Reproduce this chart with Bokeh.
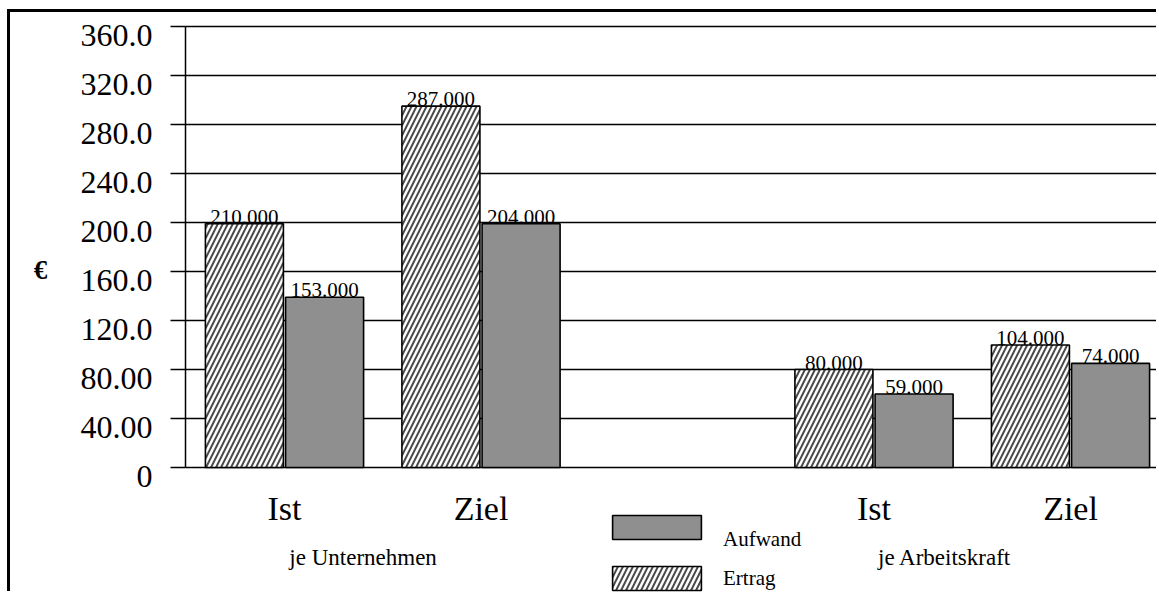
from bokeh.plotting import figure
from bokeh.models import (Range1d, FixedTicker, LinearAxis, Legend, LegendItem,
                          ColumnDataSource)
from bokeh.core.properties import value
from bokeh.transform import dodge
from bokeh.embed import file_html
from bokeh.resources import INLINE

# ---- data -------------------------------------------------------------
categories = ["Ist", "Ziel", "Ist", "Ziel"]
slots = [1, 2, 4, 5]
groups = ["je Unternehmen", "je Arbeitskraft"]
group_pos = [1.40, 4.36]
ertrag = [199, 295, 80, 100]          # bar heights as drawn
aufwand = [139, 199, 60, 85]
ertrag_labels = ["210.000", "287.000", "80.000", "104.000"]
aufwand_labels = ["153.000", "204.000", "59.000", "74.000"]
y_ticks = [0, 40, 80, 120, 160, 200, 240, 280, 320, 360]
y_tick_labels = ["0", "40.00", "80.00", "120.0", "160.0", "200.0",
                 "240.0", "280.0", "320.0", "360.0"]
unit_label = "€"
series_names = ["Aufwand", "Ertrag"]

# ---- layout constants --------------------------------------------------
FONT = "Liberation Serif"
AXIS_X = 0.4962          # x (data) where the value axis stands
X_START, X_END = -0.3944, 5.4529
Y_START, Y_END = -103.67, 371.43
LABEL_SHIFT = 7          # tick labels sit a little below their ticks
CAT_Y = -33.5
GROUP_Y = -73.5
UNIT_X, UNIT_Y = -0.2417, 161.6

src = ColumnDataSource(dict(x=slots, ertrag=ertrag, aufwand=aufwand,
                            el=ertrag_labels, al=aufwand_labels))
cat_src = ColumnDataSource(dict(x=slots, y=[CAT_Y] * len(slots), t=categories))
grp_src = ColumnDataSource(dict(x=group_pos, y=[GROUP_Y] * len(group_pos), t=groups))
grid_src = ColumnDataSource(dict(y=y_ticks, x0=[AXIS_X] * len(y_ticks),
                                 x1=[X_END] * len(y_ticks)))

p = figure(width=1149, height=582, output_backend="svg", toolbar_location=None,
           x_axis_location=None,
           x_range=Range1d(X_START, X_END), y_range=Range1d(Y_START, Y_END),
           min_border=0, min_border_left=0, min_border_right=0,
           min_border_top=0, min_border_bottom=0)
p.styles = {"border-left": "3px solid black", "border-top": "3px solid black",
            "margin-left": "7px", "margin-top": "9px"}
p.outline_line_color = None
p.background_fill_color = "white"
p.border_fill_color = "white"
p.xgrid.visible = False
p.ygrid.visible = False

# horizontal grid lines starting at the value axis
p.segment(x0="x0", y0="y", x1="x1", y1="y", source=grid_src, line_color="black",
          line_width=1.5, level="underlay")

BW = 0.397
OFF = 0.204

r_e = p.vbar(x=dodge("x", -OFF), top="ertrag", width=BW, bottom=0, source=src,
             fill_color="white", line_color="black", line_width=1.6,
             hatch_pattern="right_diagonal_line", hatch_color="#4a4a4a",
             hatch_scale=10, hatch_weight=2.0)
r_a = p.vbar(x=dodge("x", OFF), top="aufwand", width=BW, bottom=0, source=src,
             fill_color="#8f8f8f", line_color="black", line_width=1.6)

p.text(x=dodge("x", -OFF), y="ertrag", text="el", source=src,
       text_font=value(FONT), text_font_size="21px", text_align="center",
       text_baseline="bottom", text_color="black")
p.text(x=dodge("x", OFF), y="aufwand", text="al", source=src,
       text_font=value(FONT), text_font_size="21px", text_align="center",
       text_baseline="bottom", text_color="black")

# category and group labels under the zero line
p.text(x="x", y="y", text="t", source=cat_src, text_font=value(FONT),
       text_font_size="34px", text_align="center", text_baseline="middle",
       text_color="black")
p.text(x="x", y="y", text="t", source=grp_src, text_font=value(FONT),
       text_font_size="23px", text_align="center", text_baseline="middle",
       text_color="black")

# unit label
p.text(x=[UNIT_X], y=[UNIT_Y], text=[unit_label], text_font=value(FONT),
       text_font_size="27px", text_font_style="bold", text_align="center",
       text_baseline="middle", text_color="black")

# value axis: line + tick marks
ya = p.yaxis[0]
ya.fixed_location = AXIS_X
ya.bounds = (0, 360)
ya.ticker = FixedTicker(ticks=[], minor_ticks=y_ticks)
ya.major_tick_line_color = None
ya.minor_tick_out = 15
ya.minor_tick_in = 0
ya.minor_tick_line_color = "black"
ya.minor_tick_line_width = 1.5
ya.axis_line_color = "black"
ya.axis_line_width = 1.5

# value axis: tick labels
label_pos = [t - LABEL_SHIFT for t in y_ticks]
yl = LinearAxis(fixed_location=AXIS_X, ticker=FixedTicker(ticks=label_pos),
                major_label_overrides={lp: l for lp, l in zip(label_pos, y_tick_labels)})
yl.axis_line_color = None
yl.major_tick_line_color = None
yl.minor_tick_line_color = None
yl.major_tick_out = 15
yl.major_tick_in = 0
yl.major_label_standoff = 18
yl.major_label_text_font = FONT
yl.major_label_text_font_size = "32px"
yl.major_label_text_color = "black"
p.add_layout(yl, "left")

# legends (the "Aufwand" text sits below the middle of its box)
leg1 = Legend(items=[LegendItem(label="\n" + series_names[0], renderers=[r_a])],
              location=(591, 27),
              glyph_width=111, glyph_height=30, label_height=80, label_standoff=11,
              padding=0, margin=0, border_line_color=None, background_fill_alpha=0,
              label_text_font=FONT, label_text_font_size="21px",
              label_text_color="black",
              label_text_line_height=1.85, label_text_baseline="middle")
leg2 = Legend(items=[LegendItem(label=series_names[1], renderers=[r_e])], location=(591, 1),
              glyph_width=111, glyph_height=30, label_standoff=11,
              padding=0, margin=0, border_line_color=None, background_fill_alpha=0,
              label_text_font=FONT, label_text_font_size="21px",
              label_text_color="black", label_text_baseline="middle")
p.add_layout(leg1, "center")
p.add_layout(leg2, "center")

open("out.html", "w").write(file_html(p, INLINE))
